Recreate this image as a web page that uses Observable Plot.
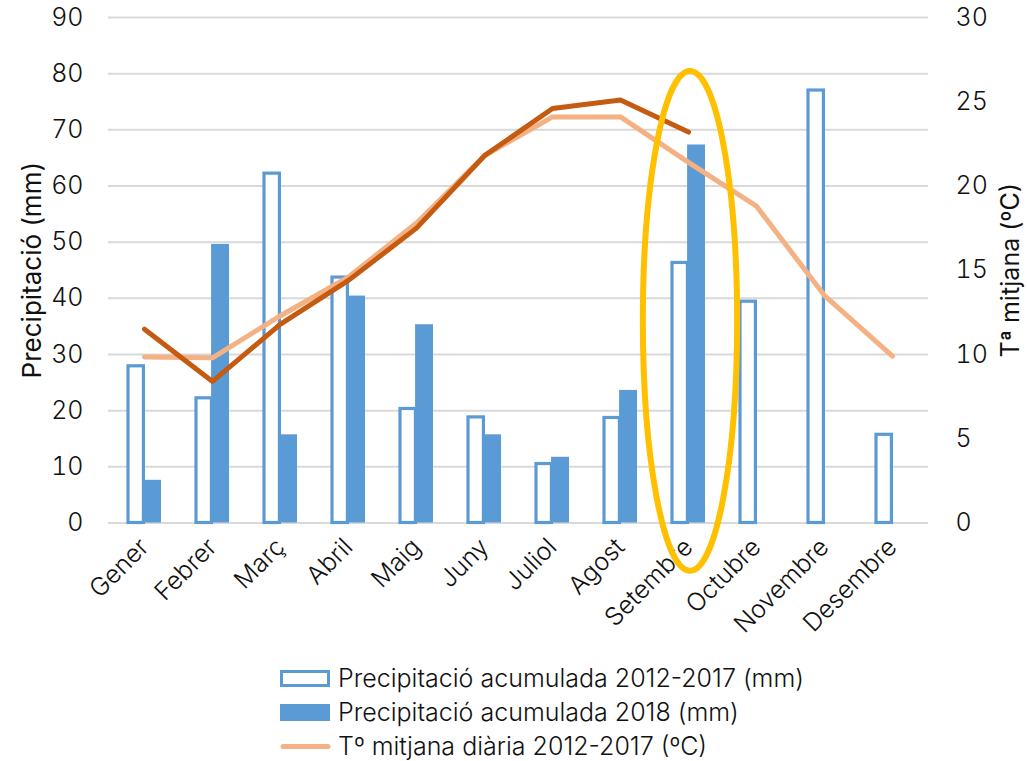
<!DOCTYPE html>
<html><head><meta charset="utf-8">
<script src="https://cdn.jsdelivr.net/npm/d3@7"></script>
<script src="https://cdn.jsdelivr.net/npm/@observablehq/plot@0.6"></script>
<style>
  html,body{margin:0;padding:0;background:#fff;}
  body{width:1027px;height:761px;overflow:hidden;font-family:Inter,"Liberation Sans",sans-serif;font-weight:300;color:#111;}
  #legend{margin-left:280px;padding-top:11px;font-size:25px;}
  #legend .row{display:flex;align-items:center;height:34px;}
  #legend svg{margin-right:7px;flex:none;}
</style></head>
<body><div id="chart"></div><div id="legend"></div>
<script>
// ---- data ----
const months = ["Gener","Febrer","Març","Abril","Maig","Juny","Juliol","Agost","Setembre","Octubre","Novembre","Desembre"];
const precip20122017 = [27.9, 22.2, 62.2, 43.7, 20.3, 18.8, 10.5, 18.7, 46.3, 39.4, 77.0, 15.7];
const precip2018     = [7.6, 49.6, 15.7, 40.4, 35.3, 15.7, 11.7, 23.6, 67.3, null, null, null];
const temp20122017   = [9.85, 9.8, 12.3, 14.6, 17.8, 21.8, 24.1, 24.1, 21.4, 18.8, 13.5, 9.9];
const temp2018       = [11.5, 8.4, 11.8, 14.4, 17.5, 21.8, 24.6, 25.1, 23.2, null, null, null];
const precipTicks = [0, 10, 20, 30, 40, 50, 60, 70, 80, 90];
const tempTicks = [0, 5, 10, 15, 20, 25, 30];
const leftTitle = "Precipitació (mm)";
const rightTitle = "Tª mitjana (ºC)";
const legendLabels = ["Precipitació acumulada 2012-2017 (mm)", "Precipitació acumulada 2018 (mm)", "Tº mitjana diària 2012-2017 (ºC)"];
const highlightMonth = "Setembre";
const highlightRange = [-8.6, 80.4]; // mm, vertical extent of the highlight ellipse

// ---- styling / layout ----
const BLUE = "#5B9BD5", LIGHT = "#F4B183", DARK = "#C55A11", YELLOW = "#FFC000", GRID = "#D9D9D9";
const FONT = 'Inter, "Liberation Sans", sans-serif';
const W = 1027, H = 650, mL = 108, mR = 99, mT = 17, mB = H - 522.5;
const k = 90 / 30; // temperature -> precipitation axis factor

const barsA = months.map((m, i) => ({month: m, value: precip20122017[i]}));
const barsB = months.map((m, i) => ({month: m, value: precip2018[i]})).filter(d => d.value != null);
const lineA = months.map((m, i) => ({month: m, t: temp20122017[i]}));
const lineB = months.map((m, i) => ({month: m, t: temp2018[i]})).filter(d => d.t != null);

const step = (W - mL - mR) / months.length;
const bw = step * 0.5;

const plot = Plot.plot({
  width: W, height: H, marginLeft: mL, marginRight: mR, marginTop: mT, marginBottom: mB,
  style: {fontFamily: FONT, fontSize: "25px", fontWeight: 300, color: "#111", background: "white", overflow: "visible"},
  x: {domain: months, paddingInner: 0.5, paddingOuter: 0.25, label: null},
  y: {domain: [0, 90], label: null},
  marks: [
    Plot.gridY(precipTicks, {stroke: GRID, strokeOpacity: 1, strokeWidth: 2}),
    Plot.barY(barsA, {x: "month", y: "value", fill: "white", stroke: BLUE, strokeWidth: 3.2, insetRight: bw / 2 + 0.5, insetLeft: 1}),
    Plot.barY(barsB, {x: "month", y: "value", fill: BLUE, insetLeft: bw / 2 - 1}),
    Plot.line(lineA, {x: "month", y: d => d.t * k, stroke: LIGHT, strokeWidth: 5, strokeLinecap: "round", strokeLinejoin: "round"}),
    Plot.line(lineB, {x: "month", y: d => d.t * k, stroke: DARK, strokeWidth: 5, strokeLinecap: "round", strokeLinejoin: "round"}),
    Plot.axisY(precipTicks, {anchor: "left", tickSize: 0, tickPadding: 25, label: null}),
    Plot.axisY(tempTicks.map(t => t * k), {anchor: "right", tickSize: 0, tickPadding: 27, tickFormat: d => d / k, label: null}),
    Plot.axisX({tickSize: 0, tickRotate: -45, tickPadding: 20, label: null}),
    Plot.text([leftTitle], {frameAnchor: "left", textAnchor: "middle", rotate: -90, dx: -76, fontSize: 26, fontWeight: 400, fill: "#111"}),
    Plot.text([rightTitle], {frameAnchor: "right", textAnchor: "middle", rotate: -90, dx: 82, fontSize: 25, fontWeight: 400, fill: "#111"})
  ]
});
document.getElementById("chart").appendChild(plot);

// highlight ellipse around September, positioned through the plot's scales
const xs = plot.scale("x"), ys = plot.scale("y");
const cx = xs.apply(highlightMonth) + xs.bandwidth / 2 + 2;
const yTop = ys.apply(highlightRange[1]), yBot = ys.apply(highlightRange[0]);
d3.select(plot).append("ellipse")
  .attr("cx", cx).attr("cy", (yTop + yBot) / 2)
  .attr("rx", step * 0.69).attr("ry", (yBot - yTop) / 2)
  .attr("fill", "none").attr("stroke", YELLOW).attr("stroke-width", 6);

// legend
const leg = d3.select("#legend");
const swatches = [
  s => s.append("rect").attr("x", 1.5).attr("y", 1.5).attr("width", 47).attr("height", 14).attr("fill", "white").attr("stroke", BLUE).attr("stroke-width", 3),
  s => s.append("rect").attr("x", 0).attr("y", 0).attr("width", 50).attr("height", 17).attr("fill", BLUE),
  s => s.append("line").attr("x1", 3).attr("x2", 48).attr("y1", 8.5).attr("y2", 8.5).attr("stroke", LIGHT).attr("stroke-width", 5).attr("stroke-linecap", "round")
];
legendLabels.forEach((lab, i) => {
  const row = leg.append("div").attr("class", "row");
  const s = row.append("svg").attr("width", 51).attr("height", 17);
  swatches[i](s);
  row.append("span").text(lab);
});
</script>
</body></html>
